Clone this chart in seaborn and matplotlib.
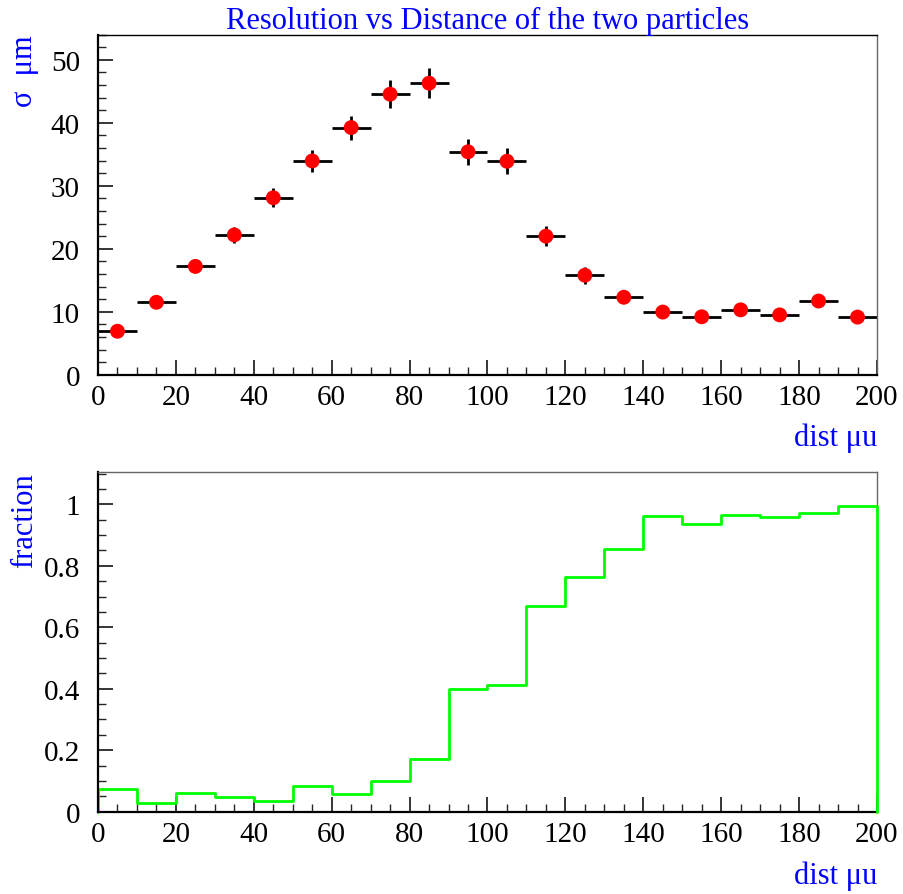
import numpy as np
import pandas as pd
import matplotlib
matplotlib.use("Agg")
import matplotlib.pyplot as plt
import seaborn as sns
from matplotlib.ticker import MultipleLocator

# ---- data ----
dist_centers = [5, 15, 25, 35, 45, 55, 65, 75, 85, 95,
                105, 115, 125, 135, 145, 155, 165, 175, 185, 195]
sigma = [6.9, 11.5, 17.2, 22.2, 28.1, 33.95, 39.25, 44.55, 46.3, 35.4,
         33.9, 22.0, 15.8, 12.3, 9.95, 9.2, 10.3, 9.5, 11.7, 9.15]
sigma_err = [0.5, 0.7, 0.9, 1.25, 1.5, 1.77, 1.9, 2.25, 2.4, 2.07,
             2.07, 1.6, 1.35, 0.9, 0.8, 0.8, 0.8, 0.8, 0.8, 0.8]
bin_halfwidth = 5
bin_edges = [0, 10, 20, 30, 40, 50, 60, 70, 80, 90, 100,
             110, 120, 130, 140, 150, 160, 170, 180, 190, 200]
fraction = [0.073, 0.029, 0.060, 0.049, 0.036, 0.085, 0.057, 0.100, 0.170, 0.400,
            0.411, 0.669, 0.765, 0.855, 0.961, 0.936, 0.966, 0.958, 0.973, 0.994]

title = "Resolution vs Distance of the two particles"
ylabel_top = "σ  μm"
ylabel_bot = "fraction"
xlabel = "dist μu"

sns.set_theme(style="ticks")
plt.rcParams['font.family'] = ['Liberation Serif', 'DejaVu Serif']
plt.rcParams['axes.linewidth'] = 1.0

W, H = 904, 895
fig = plt.figure(figsize=(W / 100, H / 100), dpi=100)

def px_axes(l, t, r, b):
    return fig.add_axes([l / W, 1 - b / H, (r - l) / W, (b - t) / H])

ax1 = px_axes(98, 35.7, 877, 375.7)
ax2 = px_axes(98, 473.3, 877, 812.7)

BLUE = "#0000ff"
TICKFS = 21
LABFS = 22

def style_axes(ax, ymax, ymaj, ymin_, top_color):
    ax.set_xlim(0, 200)
    ax.set_ylim(0, ymax)
    ax.xaxis.set_major_locator(MultipleLocator(20))
    ax.xaxis.set_minor_locator(MultipleLocator(5))
    ax.yaxis.set_major_locator(MultipleLocator(ymaj))
    ax.yaxis.set_minor_locator(MultipleLocator(ymin_))
    ax.tick_params(axis='both', which='major', direction='in', length=11, width=1.1,
                   labelsize=TICKFS, colors='black', top=False, right=False)
    ax.tick_params(axis='both', which='minor', direction='in', length=5.5, width=1.0,
                   top=False, right=False)
    ax.tick_params(axis='x', which='major', pad=7)
    ax.tick_params(axis='y', which='major', pad=13)
    for s in ['left', 'bottom']:
        ax.spines[s].set_linewidth(1.6)
        ax.spines[s].set_color('black')
    ax.spines['top'].set_color(top_color)
    ax.spines['top'].set_linewidth(1.0)
    ax.spines['right'].set_color('#666666')
    ax.spines['right'].set_linewidth(1.0)
    ax.set_xlabel("")
    ax.set_ylabel("")
    ax.set_facecolor('white')

# ---- top panel ----
df = pd.DataFrame({"dist": dist_centers, "sigma": sigma, "err": sigma_err})
ax1.errorbar(df["dist"], df["sigma"], xerr=bin_halfwidth, yerr=df["err"],
             fmt='none', ecolor='black', elinewidth=2.0, capsize=0, zorder=2)
sns.scatterplot(data=df, x="dist", y="sigma", ax=ax1, color='#ff0000', s=115,
                edgecolor='none', linewidth=0, zorder=3, legend=False)
style_axes(ax1, 54, 10, 2, 'black')

# ---- bottom panel ----
df2 = pd.DataFrame({"left": bin_edges[:-1], "frac": fraction})
sns.histplot(data=df2, x="left", weights="frac", bins=bin_edges, element="step",
             fill=False, color='#00ff00', linewidth=2.0, ax=ax2)
ax2.plot([bin_edges[-1], bin_edges[-1]], [fraction[-1], 0], color='#00ff00', lw=2.0,
         clip_on=False, zorder=5)
ax2.plot([bin_edges[0], bin_edges[0]], [0, fraction[0]], color='#00ff00', lw=2.0,
         clip_on=False, zorder=1)
style_axes(ax2, 1.104, 0.2, 0.05, '#666666')
ax2.yaxis.set_major_formatter(plt.FuncFormatter(lambda v, p: "0" if abs(v) < 1e-9 else ("1" if abs(v - 1) < 1e-9 else f"{v:.1f}")))

# ---- texts ----
fig.text(487.5 / W, 1 - 29 / H, title, color=BLUE, fontsize=LABFS, ha='center', va='baseline')
fig.text(25 / W, 1 - 35 / H, ylabel_top, color=BLUE, fontsize=LABFS, rotation=90,
         ha='center', va='top')
fig.text(25 / W, 1 - 473 / H, ylabel_bot, color=BLUE, fontsize=LABFS, rotation=90,
         ha='center', va='top')
fig.text(877 / W, 1 - 446 / H, xlabel, color=BLUE, fontsize=LABFS, ha='right', va='baseline')
fig.text(877 / W, 1 - 884 / H, xlabel, color=BLUE, fontsize=LABFS, ha='right', va='baseline')

fig.savefig("out.png", dpi=100, facecolor='white')
